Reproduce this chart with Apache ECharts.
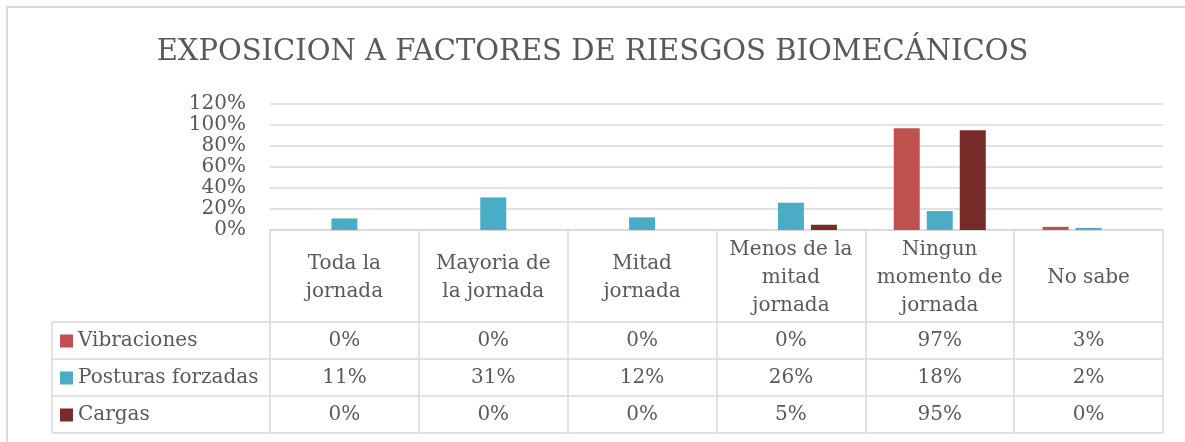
<!DOCTYPE html>
<html>
<head>
<meta charset="utf-8">
<script src="https://cdn.jsdelivr.net/npm/echarts@6/dist/echarts.min.js"></script>
<style>
  html, body { margin: 0; padding: 0; background: #fff; overflow: hidden; }
  #chart { width: 1185px; height: 442px; }
</style>
</head>
<body>
<div id="chart"></div>
<script>
// data
const categories = ['Toda la jornada', 'Mayoria de la jornada', 'Mitad jornada', 'Menos de la mitad jornada', 'Ningun momento de jornada', 'No sabe'];
const categoryLabels = ['Toda la\njornada', 'Mayoria de\nla jornada', 'Mitad\njornada', 'Menos de la\nmitad\njornada', 'Ningun\nmomento de\njornada', 'No sabe'];
const seriesNames = ['Vibraciones', 'Posturas forzadas', 'Cargas'];
const vibraciones = [0, 0, 0, 0, 97, 3];
const posturas = [11, 31, 12, 26, 18, 2];
const cargas = [0, 0, 0, 5, 95, 0];
const colors = ['#C0504D', '#4BACC6', '#772C2A'];

// layout
const FONT = 'DejaVu Serif';
const TXT = '#595959';
const LINE = '#d9d9d9';
const plotLeft = 270, plotRight = 1163, plotTop = 104, plotBottom = 230;
const headerH = 92, rowH = 37, tableLeft = 52;

const chart = echarts.init(document.getElementById('chart'));
const rows = [vibraciones, posturas, cargas];

const valueAxes = rows.map((row, i) => ({
  type: 'category',
  gridIndex: 0,
  position: 'bottom',
  offset: headerH + rowH * i,
  data: categories,
  axisLine: { show: false },
  axisTick: { show: false },
  axisLabel: {
    interval: 0,
    margin: rowH / 2 + 0.5,
    verticalAlign: 'middle',
    fontFamily: FONT,
    fontSize: 20,
    color: TXT,
    formatter: (v, idx) => row[idx] + '%'
  }
}));

const tableLines = [];
for (let i = 0; i <= rows.length; i++) {
  const y = plotBottom + headerH + rowH * i;
  tableLines.push({ type: 'line', shape: { x1: tableLeft, y1: y, x2: plotRight, y2: y }, style: { stroke: LINE, lineWidth: 1.5 } });
}
tableLines.push({
  type: 'line',
  shape: { x1: tableLeft, y1: plotBottom + headerH, x2: tableLeft, y2: plotBottom + headerH + rowH * rows.length },
  style: { stroke: LINE, lineWidth: 1.5 }
});

const option = {
  animation: false,
  title: {
    text: 'EXPOSICION A FACTORES DE RIESGOS BIOMECÁNICOS',
    left: 'center',
    top: 33,
    textStyle: { fontFamily: FONT, fontSize: 29, fontWeight: 'normal', color: TXT }
  },
  legend: {
    orient: 'vertical',
    left: 60,
    top: 331,
    padding: 0,
    icon: 'rect',
    itemWidth: 13,
    itemHeight: 13,
    itemGap: 17,
    selectedMode: false,
    data: seriesNames,
    textStyle: { fontFamily: FONT, fontSize: 20, color: TXT, lineHeight: 20 }
  },
  grid: {
    left: plotLeft,
    right: 1185 - plotRight,
    top: plotTop,
    bottom: 442 - plotBottom,
    outerBoundsMode: 'none'
  },
  xAxis: [{
    type: 'category',
    data: categories,
    axisLine: { show: true, lineStyle: { color: LINE, width: 1.5 } },
    axisTick: { show: true, interval: 0, length: headerH + rowH * rows.length, lineStyle: { color: LINE, width: 1.5 } },
    axisLabel: {
      interval: 0,
      margin: headerH / 2 + 1.5,
      verticalAlign: 'middle',
      lineHeight: 28,
      fontFamily: FONT,
      fontSize: 20,
      color: TXT,
      formatter: (v, idx) => categoryLabels[idx]
    }
  }].concat(valueAxes),
  yAxis: {
    type: 'value',
    min: 0,
    max: 120,
    interval: 20,
    axisLine: { show: false },
    axisTick: { show: false },
    axisLabel: { formatter: '{value}%', margin: 24, fontFamily: FONT, fontSize: 20, color: TXT },
    splitLine: { lineStyle: { color: LINE, width: 1.5 } }
  },
  series: seriesNames.map((name, i) => ({
    name: name,
    type: 'bar',
    data: rows[i],
    barWidth: 26,
    barGap: '27%',
    itemStyle: { color: colors[i] }
  })),
  graphic: [
    { type: 'line', shape: { x1: 6, y1: 7, x2: 1190, y2: 7 }, style: { stroke: LINE, lineWidth: 2 }, silent: true },
    { type: 'line', shape: { x1: 7, y1: 6, x2: 7, y2: 450 }, style: { stroke: LINE, lineWidth: 2 }, silent: true }
  ].concat(tableLines)
};

chart.setOption(option);
</script>
</body>
</html>
